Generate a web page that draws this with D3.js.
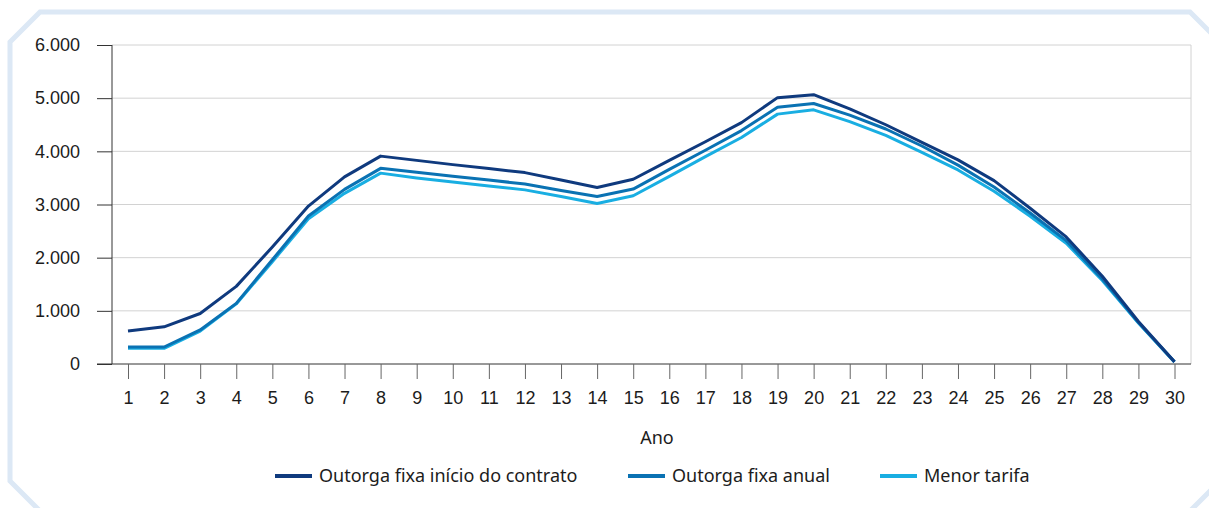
<!DOCTYPE html>
<html>
<head>
<meta charset="utf-8">
<script src="https://cdn.jsdelivr.net/npm/d3@7"></script>
<style>
  body { margin: 0; background: #fff; }
  svg { display: block; font-family: "Noto Sans", sans-serif; }
  .tick text { fill: #1c1c1c; }
</style>
</head>
<body>
<div id="chart"></div>
<script>
// data
const years = d3.range(1, 31);
const inicioContrato = [620, 700, 950, 1460, 2200, 2970, 3520, 3910, 3830, 3750, 3675, 3600, 3460, 3320, 3475,
  3830, 4180, 4540, 5010, 5065, 4800, 4500, 4170, 3840, 3450, 2930, 2390, 1650, 800, 40];
const fixaAnual = [320, 320, 640, 1140, 1960, 2785, 3285, 3680, 3605, 3530, 3460, 3385, 3265, 3150, 3290,
  3660, 4020, 4390, 4830, 4900, 4680, 4420, 4100, 3740, 3330, 2840, 2320, 1600, 780, 40];
const menorTarifa = [295, 295, 620, 1130, 1925, 2730, 3210, 3590, 3500, 3425, 3350, 3275, 3150, 3020, 3165,
  3530, 3900, 4260, 4700, 4780, 4560, 4300, 3980, 3650, 3250, 2780, 2270, 1570, 770, 40];
const seriesNames = ["Outorga fixa início do contrato", "Outorga fixa anual", "Menor tarifa"];
const seriesColors = ["#0f3a7e", "#0a72b3", "#19aee2"];
const yTicks = [0, 1000, 2000, 3000, 4000, 5000, 6000];

const W = 1209, H = 508;
const plot = {left: 112, right: 1191, top: 45, bottom: 364};
const fontSize = 18;

const svg = d3.select("#chart").append("svg")
    .attr("width", W)
    .attr("height", H);

// light blue octagon frame
svg.append("path")
    .attr("d", "M10,42 L40,12 L1190,12 L1240,62 L1240,461 L1171,530 L59,530 L10,481 Z")
    .attr("fill", "none")
    .attr("stroke", "#dce8f5")
    .attr("stroke-width", 5);

const x = d3.scalePoint()
    .domain(years)
    .range([128, 1174.5]);

const y = d3.scaleLinear()
    .domain([0, 6000])
    .range([plot.bottom, plot.top]);

const fmt = d3.formatLocale({decimal: ",", thousands: ".", grouping: [3], currency: ["R$", ""]}).format(",d");

// gridlines
svg.append("g")
  .selectAll("line")
  .data(yTicks.slice(1))
  .join("line")
    .attr("x1", plot.left).attr("x2", plot.right)
    .attr("y1", d => y(d)).attr("y2", d => y(d))
    .attr("stroke", "#d2d2d2")
    .attr("stroke-width", 1);

svg.append("line")
    .attr("x1", plot.right).attr("x2", plot.right)
    .attr("y1", plot.top).attr("y2", plot.bottom)
    .attr("stroke", "#d2d2d2");

// y axis
const yAxis = svg.append("g")
    .attr("transform", `translate(${plot.left},0)`)
    .call(d3.axisLeft(y).tickValues(yTicks).tickFormat(fmt).tickSize(15).tickPadding(17));
yAxis.select(".domain").attr("stroke", "#333").attr("d", `M0,${plot.top}V${plot.bottom}`);
yAxis.selectAll(".tick line").attr("stroke", "#333");
yAxis.selectAll("text").attr("font-size", fontSize);

// x axis
const xAxis = svg.append("g")
    .attr("transform", `translate(0,${plot.bottom})`)
    .call(d3.axisBottom(x).tickSize(15).tickPadding(12));
xAxis.select(".domain").attr("stroke", "#333").attr("d", `M97,0H${plot.right}`);
xAxis.selectAll(".tick line").attr("stroke", "#666");
xAxis.selectAll("text").attr("font-size", fontSize);

svg.append("text")
    .attr("x", 657)
    .attr("y", 444)
    .attr("text-anchor", "middle")
    .attr("font-size", fontSize)
    .attr("fill", "#1c1c1c")
    .text("Ano");

// lines
const line = d3.line()
    .x((d, i) => x(years[i]))
    .y(d => y(d));

const allSeries = [inicioContrato, fixaAnual, menorTarifa];
svg.append("g")
  .selectAll("path")
  .data(allSeries.slice().reverse())
  .join("path")
    .attr("d", line)
    .attr("fill", "none")
    .attr("stroke", (d, i) => seriesColors[2 - i])
    .attr("stroke-width", 3)
    .attr("stroke-linejoin", "round");

// legend
const legendX = [275, 628, 880];
const legend = svg.append("g")
  .selectAll("g")
  .data(seriesNames)
  .join("g")
    .attr("transform", (d, i) => `translate(${legendX[i]},476)`);
legend.append("line")
    .attr("x1", 0).attr("x2", 37)
    .attr("stroke", (d, i) => seriesColors[i])
    .attr("stroke-width", 4);
legend.append("text")
    .attr("x", 44)
    .attr("dy", "0.35em")
    .attr("font-size", fontSize)
    .attr("fill", "#1c1c1c")
    .text(d => d);
</script>
</body>
</html>
